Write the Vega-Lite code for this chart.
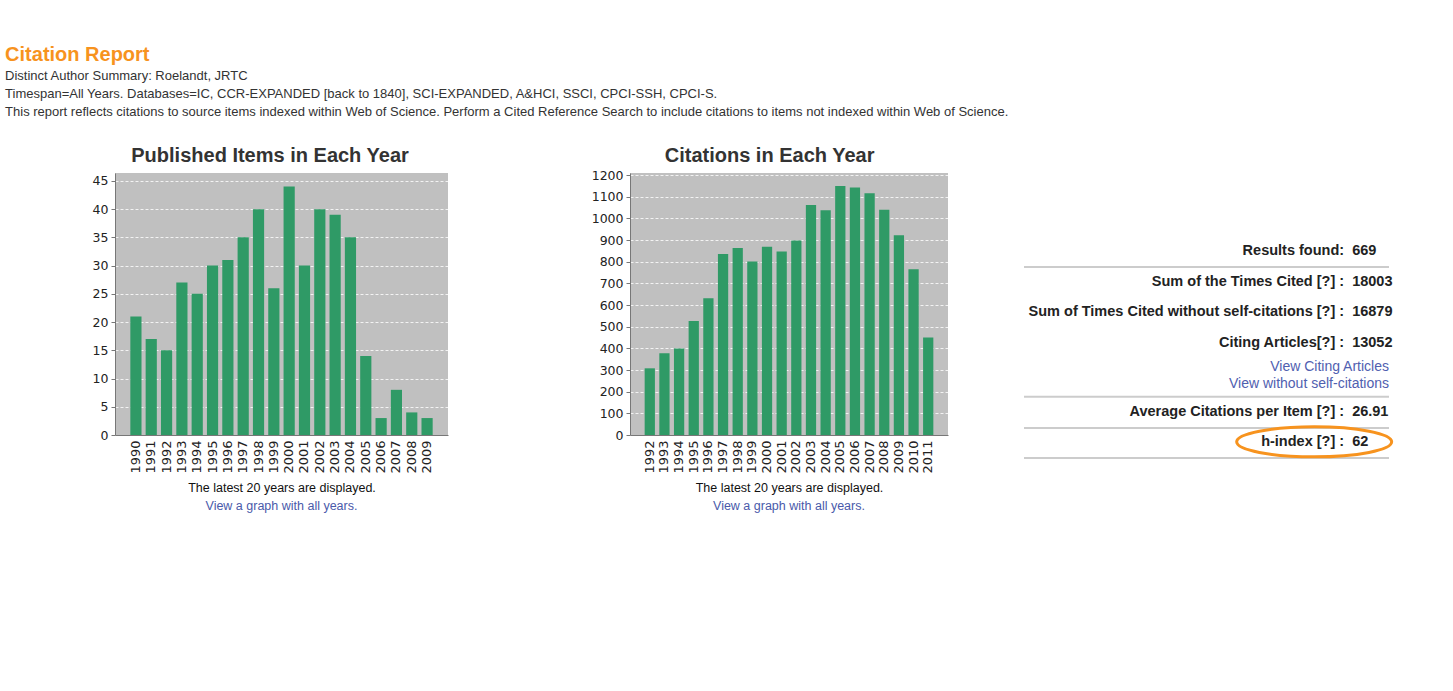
{
  "$schema": "https://vega.github.io/schema/vega-lite/v6.json",
  "background": "white",
  "padding": {"left": 5, "top": 45, "right": 5, "bottom": 5},
  "title": {
    "text": "Citation Report",
    "subtitle": ["Distinct Author Summary: Roelandt, JRTC", "Timespan=All Years. Databases=IC, CCR-EXPANDED [back to 1840], SCI-EXPANDED, A&HCI, SSCI, CPCI-SSH, CPCI-S.", "This report reflects citations to source items indexed within Web of Science. Perform a Cited Reference Search to include citations to items not indexed within Web of Science."],
    "anchor": "start",
    "dx": -87,
    "font": "Liberation Sans",
    "fontSize": 20,
    "fontWeight": "bold",
    "color": "#f7931e",
    "subtitleFont": "Liberation Sans",
    "subtitleFontSize": 13,
    "subtitleColor": "#333333",
    "subtitlePadding": 5,
    "subtitleLineHeight": 18,
    "offset": 27
  },
  "spacing": 75,
  "hconcat": [
    {
      "spacing": 143,
      "hconcat": [
        {
          "title": {"text": "Published Items in Each Year", "anchor": "middle", "font": "Liberation Sans", "fontSize": 20, "fontWeight": "bold", "color": "#333333", "offset": 7},
          "vconcat": [
            {
              "title": {"text": "View a graph with all years.", "orient": "bottom", "font": "Liberation Sans", "fontSize": 12.5, "fontWeight": "normal", "color": "#4a5aaa", "offset": 6},
              "width": 333,
              "height": 262,
              "data": {"values": [
                {"year": "1990", "items": 21}, {"year": "1991", "items": 17}, {"year": "1992", "items": 15},
                {"year": "1993", "items": 27}, {"year": "1994", "items": 25}, {"year": "1995", "items": 30},
                {"year": "1996", "items": 31}, {"year": "1997", "items": 35}, {"year": "1998", "items": 40},
                {"year": "1999", "items": 26}, {"year": "2000", "items": 44}, {"year": "2001", "items": 30},
                {"year": "2002", "items": 40}, {"year": "2003", "items": 39}, {"year": "2004", "items": 35},
                {"year": "2005", "items": 14}, {"year": "2006", "items": 3}, {"year": "2007", "items": 8},
                {"year": "2008", "items": 4}, {"year": "2009", "items": 3}
              ]},
              "mark": {"type": "bar", "color": "#2f9a66"},
              "encoding": {
                "x": {"field": "year", "type": "ordinal", "scale": {"paddingInner": 0.27, "paddingOuter": 1.13},
                      "axis": {"title": "The latest 20 years are displayed.", "labelAngle": 270, "ticks": false, "grid": false}},
                "y": {"field": "items", "type": "quantitative", "scale": {"domain": [0, 46.4], "nice": false},
                      "axis": {"title": null, "format": "d", "values": [0, 5, 10, 15, 20, 25, 30, 35, 40, 45]}}
              }
            }
          ]
        },
        {
          "title": {"text": "Citations in Each Year", "anchor": "middle", "font": "Liberation Sans", "fontSize": 20, "fontWeight": "bold", "color": "#333333", "offset": 3},
          "vconcat": [
            {
              "title": {"text": "View a graph with all years.", "orient": "bottom", "font": "Liberation Sans", "fontSize": 12.5, "fontWeight": "normal", "color": "#4a5aaa", "offset": 6},
              "width": 318,
              "height": 262,
              "data": {"values": [
                {"year": "1992", "cites": 308}, {"year": "1993", "cites": 378}, {"year": "1994", "cites": 400},
                {"year": "1995", "cites": 527}, {"year": "1996", "cites": 632}, {"year": "1997", "cites": 836},
                {"year": "1998", "cites": 864}, {"year": "1999", "cites": 801}, {"year": "2000", "cites": 869},
                {"year": "2001", "cites": 848}, {"year": "2002", "cites": 898}, {"year": "2003", "cites": 1062},
                {"year": "2004", "cites": 1038}, {"year": "2005", "cites": 1150}, {"year": "2006", "cites": 1143},
                {"year": "2007", "cites": 1116}, {"year": "2008", "cites": 1040}, {"year": "2009", "cites": 922},
                {"year": "2010", "cites": 766}, {"year": "2011", "cites": 450}
              ]},
              "mark": {"type": "bar", "color": "#2f9a66"},
              "encoding": {
                "x": {"field": "year", "type": "ordinal", "scale": {"paddingInner": 0.3, "paddingOuter": 1.2},
                      "axis": {"title": "The latest 20 years are displayed.", "labelAngle": 270, "ticks": false, "grid": false}},
                "y": {"field": "cites", "type": "quantitative", "scale": {"domain": [0, 1210], "nice": false},
                      "axis": {"title": null, "format": "d", "values": [0, 100, 200, 300, 400, 500, 600, 700, 800, 900, 1000, 1100, 1200]}}
              }
            }
          ]
        }
      ]
    },
    {
      "width": 365,
      "height": 330,
      "view": {"fill": null, "stroke": null},
      "layer": [
        {
          "data": {"values": [{"sep": 3.13}, {"sep": 7.46}, {"sep": 8.5}, {"sep": 9.5}]},
          "mark": {"type": "rule", "color": "#cccccc", "strokeWidth": 2},
          "encoding": {
            "y": {"field": "sep", "type": "quantitative", "scale": {"domain": [0, 11], "reverse": true, "nice": false}, "axis": null},
            "x": {"datum": 0, "type": "quantitative", "scale": {"domain": [0, 1]}, "axis": null},
            "x2": {"datum": 1}
          }
        },
        {
          "data": {"values": [
            {"row": 2.6, "label": "Results found:", "value": "669", "kind": "stat"},
            {"row": 3.63, "label": "Sum of the Times Cited [?] :", "value": "18003", "kind": "stat"},
            {"row": 4.63, "label": "Sum of Times Cited without self-citations [?] :", "value": "16879", "kind": "stat"},
            {"row": 5.66, "label": "Citing Articles[?] :", "value": "13052", "kind": "stat"},
            {"row": 6.46, "label": "View Citing Articles", "value": "", "kind": "link"},
            {"row": 7.03, "label": "View without self-citations", "value": "", "kind": "link"},
            {"row": 7.96, "label": "Average Citations per Item [?] :", "value": "26.91", "kind": "stat"},
            {"row": 8.96, "label": "h-index [?] :", "value": "62", "kind": "stat"}
          ]},
          "layer": [
            {
              "transform": [{"filter": "datum.kind === 'stat'"}],
              "mark": {"type": "text", "align": "right", "baseline": "middle", "font": "Liberation Sans", "fontSize": 14.5, "fontWeight": "bold", "color": "#222222"},
              "encoding": {
                "y": {"field": "row", "type": "quantitative"},
                "x": {"datum": 0.877, "type": "quantitative"},
                "text": {"field": "label"}
              }
            },
            {
              "transform": [{"filter": "datum.kind === 'stat'"}],
              "mark": {"type": "text", "align": "left", "baseline": "middle", "font": "Liberation Sans", "fontSize": 14.5, "fontWeight": "bold", "color": "#222222"},
              "encoding": {
                "y": {"field": "row", "type": "quantitative"},
                "x": {"datum": 0.899, "type": "quantitative"},
                "text": {"field": "value"}
              }
            },
            {
              "transform": [{"filter": "datum.kind === 'link'"}],
              "mark": {"type": "text", "align": "right", "baseline": "middle", "font": "Liberation Sans", "fontSize": 14, "color": "#5060b0"},
              "encoding": {
                "y": {"field": "row", "type": "quantitative"},
                "x": {"datum": 1, "type": "quantitative"},
                "text": {"field": "label"}
              }
            },
            {
              "transform": [{"filter": "datum.label === 'h-index [?] :'"}],
              "mark": {"type": "point", "shape": "M -1 0 A 1 0.194 0 1 1 1 0 A 1 0.194 0 1 1 -1 0 Z", "size": 24025, "filled": false, "stroke": "#f7931e", "strokeWidth": 3, "opacity": 1},
              "encoding": {
                "y": {"field": "row", "type": "quantitative"},
                "x": {"datum": 0.795, "type": "quantitative"}
              }
            }
          ]
        }
      ]
    }
  ],
  "config": {
    "font": "Liberation Sans",
    "view": {"fill": "#c0c0c0", "stroke": null},
    "axis": {
      "labelFont": "DejaVu Sans",
      "labelFontSize": 12.5,
      "labelColor": "#222222",
      "domainColor": "#777777",
      "tickColor": "#777777",
      "tickSize": 4,
      "labelPadding": 3,
      "gridColor": "#ffffff",
      "gridDash": [3, 2],
      "gridOpacity": 0.8,
      "titleFont": "Liberation Sans",
      "titleFontSize": 12.5,
      "titleFontWeight": "normal",
      "titleColor": "#111111",
      "titlePadding": 8
    },
    "axisX": {"labelPadding": 5, "labelFontSize": 13}
  }
}
